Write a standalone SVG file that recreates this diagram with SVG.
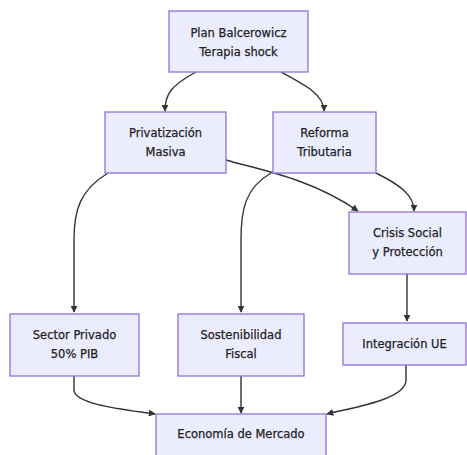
<svg xmlns="http://www.w3.org/2000/svg" width="467" height="455" viewBox="0 0 467 455">
  <style>
    .node rect { fill: #ECECFF; stroke: #9370DB; stroke-width: 1.3; }
    .node text { font-family: "DejaVu Sans", Verdana, sans-serif; font-size: 11.5px; fill: #222; stroke: #222; stroke-width: 0.25; text-anchor: middle; dominant-baseline: central; }
    .edge { fill: none; stroke: #333; stroke-width: 1.4; marker-end: url(#arrow); }
  </style>
  <defs>
    <marker id="arrow" viewBox="0 0 10 10" refX="9" refY="5" markerWidth="7" markerHeight="7" markerUnits="userSpaceOnUse" orient="auto">
      <path d="M0,0 L10,5 L0,10 z" fill="#333"/>
    </marker>
  </defs>
  <rect width="467" height="455" fill="#ffffff"/>

  <g id="connectors">
    <path class="edge" d="M196,72 C170,86 165,95 165,111"/>
    <path class="edge" d="M281,72 C307,86 324,95 324,111"/>
    <path class="edge" d="M108,173 C80,190 74,210 74,240 L74,312"/>
    <path class="edge" d="M271,173 C245,188 241,210 241,240 L241,312"/>
    <path class="edge" d="M226,160 C260,170 310,178 358,211"/>
    <path class="edge" d="M376,173 C400,185 414,195 414,211"/>
    <path class="edge" d="M407,274 L407,321"/>
    <path class="edge" d="M74,376 L74,390 C74,405 130,410 155,414"/>
    <path class="edge" d="M241,376 L241,413"/>
    <path class="edge" d="M406,365 L406,380 C406,400 350,408 327,414"/>
  </g>

  <g id="plan" class="node">
    <rect x="169" y="11" width="139" height="61"/>
    <text x="238.5" y="33">Plan Balcerowicz</text>
    <text x="238.5" y="52">Terapia shock</text>
  </g>
  <g id="privatizacion" class="node">
    <rect x="105" y="112" width="121" height="61"/>
    <text x="165.5" y="133">Privatización</text>
    <text x="165.5" y="152">Masiva</text>
  </g>
  <g id="reforma" class="node">
    <rect x="273" y="112" width="103" height="61"/>
    <text x="324.5" y="133">Reforma</text>
    <text x="324.5" y="152">Tributaria</text>
  </g>
  <g id="crisis" class="node">
    <rect x="349" y="212" width="117" height="62"/>
    <text x="407.5" y="233">Crisis Social</text>
    <text x="407.5" y="252">y Protección</text>
  </g>
  <g id="sector" class="node">
    <rect x="10" y="314" width="129" height="62"/>
    <text x="74.5" y="335">Sector Privado</text>
    <text x="74.5" y="354">50% PIB</text>
  </g>
  <g id="sostenibilidad" class="node">
    <rect x="178" y="314" width="126" height="62"/>
    <text x="241" y="335">Sostenibilidad</text>
    <text x="241" y="354">Fiscal</text>
  </g>
  <g id="integracion" class="node">
    <rect x="343" y="323" width="123" height="42"/>
    <text x="404.5" y="344">Integración UE</text>
  </g>
  <g id="economia" class="node">
    <rect x="156" y="414" width="170" height="45"/>
    <text x="241" y="434">Economía de Mercado</text>
  </g>
</svg>
